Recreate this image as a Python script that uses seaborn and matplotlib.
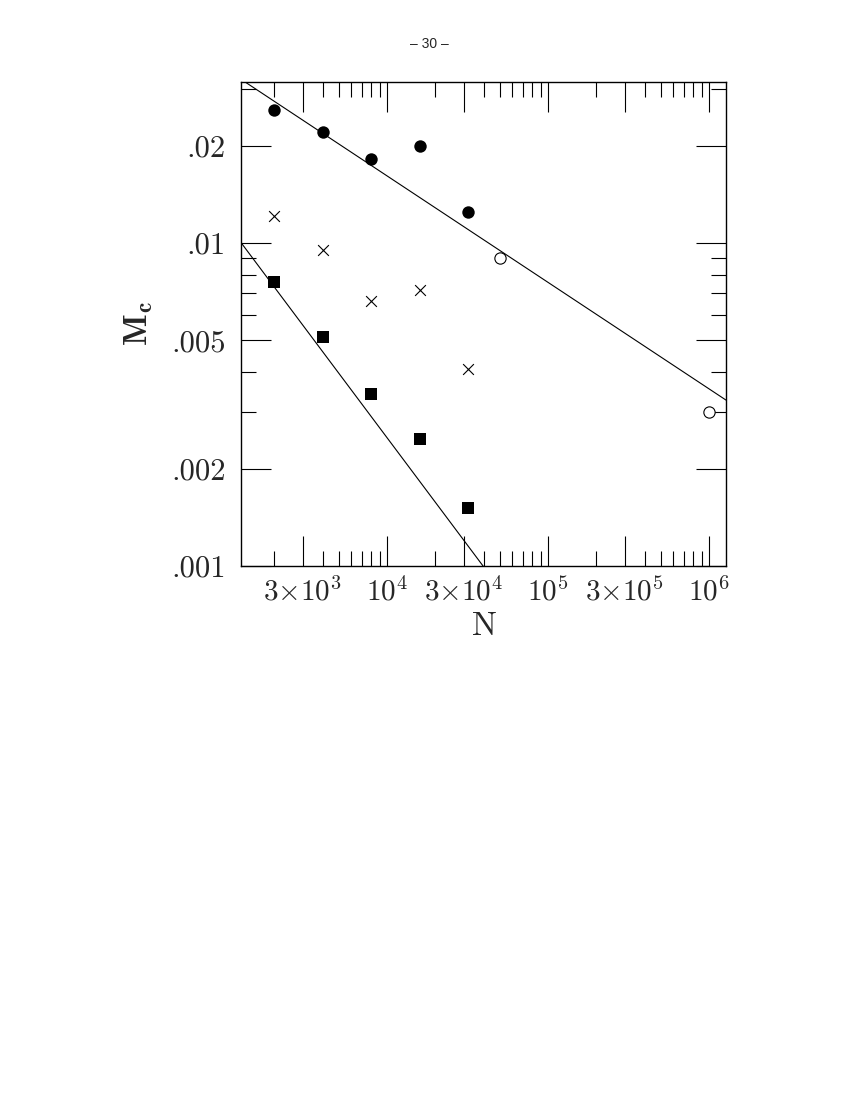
import numpy as np
import pandas as pd
import matplotlib
matplotlib.use("Agg")
import matplotlib.pyplot as plt
import seaborn as sns

# data
n_runs = [2000, 4000, 8000, 16000, 32000]
mc_filled = [0.0259, 0.0221, 0.01825, 0.0200, 0.01253]
mc_cross = [0.01215, 0.00951, 0.00664, 0.00715, 0.00408]
mc_square = [0.0076, 0.00512, 0.00341, 0.00248, 0.00151]
n_open = [50000, 1000000]
mc_open = [0.00899, 0.0030]

# power-law lines M = A * N**p
upper_amp, upper_pow = 0.338, -0.33
lower_amp, lower_pow = 1.16, -2.0 / 3.0

xlim = (1240, 1.275e6)
ylim = (0.001, 0.0316)

x_major = [3e3, 1e4, 3e4, 1e5, 3e5, 1e6]
x_major_labels = [r"$3{\times}10^3$", r"$10^4$", r"$3{\times}10^4$",
                  r"$10^5$", r"$3{\times}10^5$", r"$10^6$"]
x_minor = [2e3, 4e3, 5e3, 6e3, 7e3, 8e3, 9e3,
           2e4, 4e4, 5e4, 6e4, 7e4, 8e4, 9e4,
           2e5, 4e5, 5e5, 6e5, 7e5, 8e5, 9e5]
y_major = [0.001, 0.002, 0.005, 0.01, 0.02]
y_major_labels = [".001", ".002", ".005", ".01", ".02"]
y_minor = [0.003, 0.004, 0.006, 0.007, 0.008, 0.009, 0.03]

sns.set_style("ticks")
plt.rcParams["mathtext.fontset"] = "cm"
plt.rcParams["font.family"] = ["DejaVu Sans"]

fig = plt.figure(figsize=(8.5, 11), dpi=100)
ax = fig.add_axes([241 / 850, 1 - 566 / 1100, 485 / 850, 484 / 1100])

# fit lines across the whole x range
line_x = np.array(xlim)
lines = pd.DataFrame({
    "N": np.concatenate([line_x, line_x]),
    "M": np.concatenate([upper_amp * line_x ** upper_pow,
                         lower_amp * line_x ** lower_pow]),
    "fit": ["upper", "upper", "lower", "lower"],
})
sns.lineplot(data=lines, x="N", y="M", units="fit", estimator=None,
             color="black", linewidth=0.8, ax=ax, legend=False)

sns.scatterplot(x=n_runs, y=mc_filled, marker="o", s=80, color="black",
                linewidth=0, ax=ax)
sns.scatterplot(x=n_runs, y=mc_cross, marker="x", s=60, color="black",
                linewidth=0.8, ax=ax)
sns.scatterplot(x=n_runs, y=mc_square, marker="s", s=78, color="black",
                linewidth=0, ax=ax)
sns.scatterplot(x=n_open, y=mc_open, marker="o", s=66, facecolor="white",
                edgecolor="black", linewidth=0.8, ax=ax)

ax.set_xscale("log")
ax.set_yscale("log")
ax.set_xlim(*xlim)
ax.set_ylim(*ylim)

ax.set_xticks(x_major)
ax.set_xticklabels(x_major_labels)
ax.set_xticks(x_minor, minor=True)
ax.set_xticklabels([], minor=True)
ax.set_yticks(y_major)
ax.set_yticklabels(y_major_labels, family="cmr10")
ax.set_yticks(y_minor, minor=True)
ax.set_yticklabels([], minor=True)

ax.tick_params(which="both", direction="in", top=True, right=True,
               color="black", width=0.8)
ax.tick_params(which="major", length=21.6)
ax.tick_params(which="minor", length=10.8)
ax.tick_params(axis="x", which="major", labelsize=21, pad=8)
ax.tick_params(axis="y", which="major", labelsize=22, pad=11)

for sp in ax.spines.values():
    sp.set_linewidth(1.0)
    sp.set_color("black")

ax.set_xlabel(r"$\mathrm{N}$", fontsize=24, labelpad=2)
ax.set_ylabel(r"$\mathbf{M_c}$", fontsize=24, labelpad=12)

fig.text(429 / 850, 1 - 44 / 1100, "\u2013 30 \u2013", ha="center",
         va="center", fontsize=10, family=["Liberation Sans", "DejaVu Sans"])

fig.savefig("out.png", dpi=100)
